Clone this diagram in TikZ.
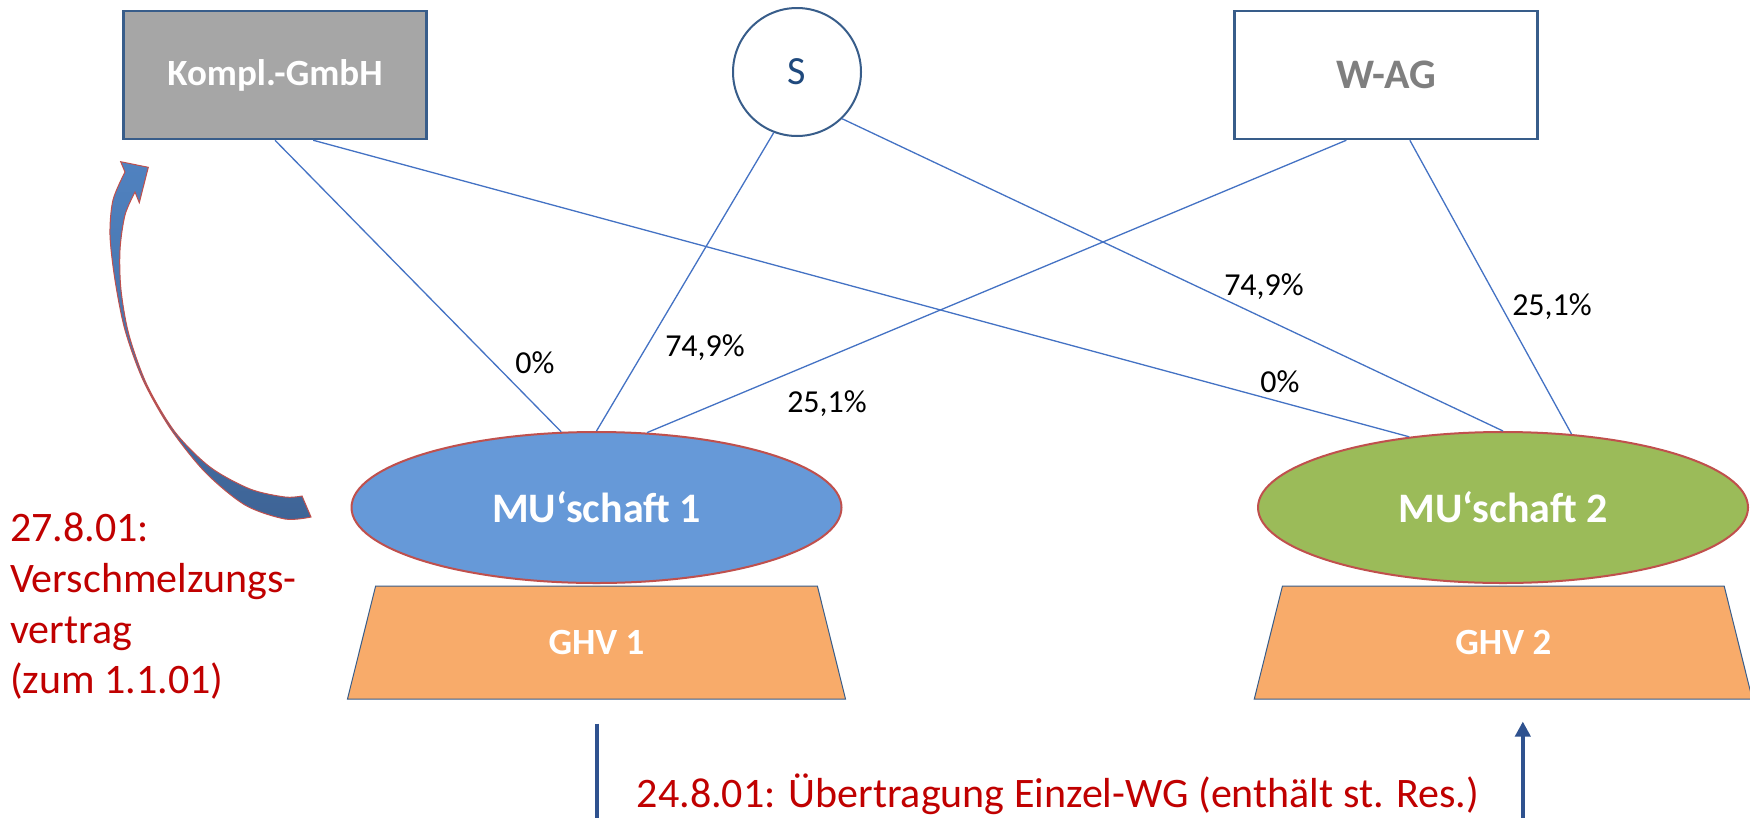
\documentclass[tikz,border=0pt]{standalone}
\usepackage{fontspec}
\setmainfont{Carlito}
\usetikzlibrary{shapes.geometric,arrows.meta,calc}

\definecolor{linkblue}{RGB}{68,114,196}
\definecolor{frameblue}{RGB}{56,93,138}
\definecolor{mublue}{RGB}{102,153,216}
\definecolor{mugreen}{RGB}{155,187,89}
\definecolor{ghvorange}{RGB}{248,171,106}
\definecolor{rimred}{RGB}{192,80,77}
\definecolor{notered}{RGB}{192,0,0}
\definecolor{kgray}{RGB}{166,166,166}
\definecolor{wgray}{RGB}{127,127,127}
\definecolor{sblue}{RGB}{31,73,125}
\definecolor{flowblue}{RGB}{47,82,143}
\definecolor{bendlight}{RGB}{80,130,192}
\definecolor{benddark}{RGB}{62,100,150}

\begin{document}
\begin{tikzpicture}[x=1pt,y=-1pt,
  owner/.style={draw=frameblue, line width=2.5pt, minimum width=303pt,
    minimum height=128pt, inner sep=0pt},
  person/.style={circle, draw=frameblue, line width=2pt, fill=white,
    minimum size=128pt, inner sep=0pt, text=sblue,
    font=\fontsize{40}{48}\selectfont},
  firm/.style={ellipse, draw=rimred, line width=2pt, minimum width=490pt,
    minimum height=151pt, inner sep=0pt, text=white,
    font=\fontsize{42}{50}\selectfont\bfseries},
  estate/.style={trapezium, trapezium left angle=76, trapezium right angle=76,
    draw=frameblue, line width=1pt, fill=ghvorange, minimum width=491pt,
    minimum height=113pt, inner sep=0pt, text=white,
    font=\fontsize{37}{44}\selectfont\bfseries},
  link/.style={draw=linkblue, line width=1.3pt},
  share/.style={anchor=base, inner sep=0pt, font=\fontsize{32}{38}\selectfont},
  note/.style={text=notered, inner sep=0pt, font=\fontsize{42}{50.7}\selectfont},
  flow/.style={draw=flowblue, line width=4pt, -{Triangle[width=15pt,length=15pt]}}
]
\useasboundingbox (0,0) rectangle (1750,817);
\clip (0,0) rectangle (1750,817);
\fill[white] (0,0) rectangle (1750,817);

% shareholders
\node[owner, fill=kgray, text=white, font=\fontsize{37}{44}\selectfont\bfseries]
  (kompl) at (275,75) {Kompl.-GmbH};
\node[person] (s) at (797,72) {S};
\node[owner, fill=white, text=wgray, font=\fontsize{42}{50}\selectfont\bfseries]
  (wag) at (1386,75) {W-AG};

% partnerships and their assets
\node[firm, fill=mublue] (mu1) at (596.5,507.5) {MU‘schaft 1};
\node[firm, fill=mugreen] (mu2) at (1503,507.5) {MU‘schaft 2};
\node[estate] (ghv1) at (596.5,642.5) {GHV 1};
\node[estate] (ghv2) at (1503.3,642.5) {GHV 2};

% shareholdings
\draw[link] (kompl.south) -- (mu1.115);
\draw[link] ($(kompl.south west)!0.625!(kompl.south east)$) -- (mu2.143);
\draw[link] (s.249) -- (mu1.90);
\draw[link] (s.-46) -- (mu2.90);
\draw[link] ($(wag.south west)!0.37!(wag.south east)$) -- (mu1.56);
\draw[link] ($(wag.south west)!0.578!(wag.south east)$) -- (mu2.47);

\node[share] (p1) at (535,373) {0\%};
\node[share] (p2) at (705,356) {74,9\%};
\node[share] (p3) at (827,412) {25,1\%};
\node[share] (p4) at (1264,295) {74,9\%};
\node[share] (p5) at (1552,315) {25,1\%};
\node[share] (p6) at (1280,392) {0\%};

% merger arrow
\path[shade, top color=bendlight, bottom color=benddark, draw=rimred, line width=1pt]
  plot[smooth] coordinates {(311,517) (285,519) (245,505) (205,472) (170,428)
    (143,380) (125,330) (115,280) (110,235) (113,200) (125,172)}
  -- (120.7,161.7) -- (148.3,167.3) -- (139.3,202.7)
  -- plot[smooth] coordinates {(135,192) (125,215) (120,250) (121,290)
    (129,335) (147,385) (175,432) (210,467) (250,489) (285,497) (302,496)}
  -- cycle;

% transfer of the single asset (elbow runs below the lower edge)
\coordinate (flowstart) at ($(ghv1.south)+(0,24)$);
\coordinate (flowend) at ($(ghv2.south)+(19.5,22)$);
\coordinate (low) at (0,820);
\draw[flow] (flowstart) -- (flowstart |- low) -| (flowend);

% notes
\node[note, anchor=base west, align=left] (mergenote) at (10,693.8)
  {27.8.01:\\Verschmelzungs-\\vertrag\\(zum 1.1.01)};
\node[note, anchor=base west] (transfernote) at (636.7,807.3)
  {24.8.01: Übertragung Einzel-WG (enthält st. Res.)};
\end{tikzpicture}
\end{document}
